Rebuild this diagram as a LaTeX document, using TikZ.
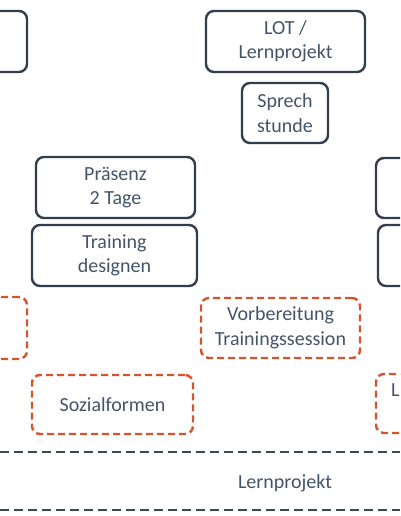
\documentclass[tikz,border=0pt]{standalone}
\usepackage{fontspec}
\setmainfont{Carlito}
\usetikzlibrary{arrows.meta, positioning}
\definecolor{Slate} {HTML}{333E4B}
\definecolor{SlateT}{HTML}{44546A}
\definecolor{Brick} {HTML}{D5532F}
\definecolor{DGray} {HTML}{3E4852}
\tikzset{
  blk/.style={
    rectangle, rounded corners=8pt,
    draw=Slate, fill=white, text=SlateT,
    font=\fontsize{20}{24.5}\selectfont, align=center,
    inner sep=0pt, line width=2.4pt,
  },
  rblk/.style={
    blk, draw=Brick, dash pattern=on 7pt off 4pt,
  },
  sep/.style={
    draw=DGray, line width=2.4pt, dash pattern=on 9pt off 5pt,
  },
  lbl/.style={
    font=\fontsize{20}{24.5}\selectfont, text=SlateT, inner sep=0pt,
  },
}
\begin{document}
\begin{tikzpicture}[x=1pt,y=1pt]
  \useasboundingbox (0,0) rectangle (400,516);
  \clip (0,0) rectangle (400,516);
    % top row
    \node[blk, minimum width=160pt, minimum height=61pt] (tl) at (-53,474.5) {};
    \node[blk, minimum width=159pt, minimum height=61pt] (lot) at (285.5,474.5)
          {LOT /\\Lernprojekt};
    \node[blk, minimum width=86pt, minimum height=60pt] (sprech) at (285,403)
          {Sprech\\stunde};
    % second group
    \node[blk, minimum width=159pt, minimum height=61pt] (praes) at (115.5,328.5)
          {Präsenz\\2 Tage};
    \node[blk, minimum width=165pt, minimum height=61pt] (design) at (114.5,260.5)
          {Training\\designen};
    \node[blk, minimum width=160pt, minimum height=60pt] (r1) at (456,328) {};
    \node[blk, minimum width=160pt, minimum height=61pt] (r2) at (458,260.5) {};
    % dashed (red) boxes
    \node[rblk, minimum width=160pt, minimum height=62pt] (rl) at (-53,188) {};
    \node[rblk, minimum width=159pt, minimum height=60pt] (vorb) at (280.5,188)
          {Vorbereitung\\Trainingssession};
    \node[rblk, minimum width=161pt, minimum height=59pt] (sozial) at (112.5,111.5)
          {Sozialformen};
    \node[rblk, minimum width=160pt, minimum height=59pt] (rr) at (456,112.5) {};
    \node[lbl, anchor=base west] (rrt) at (391,119) {L};
    % Lernprojekt band
    \draw[sep] (0,64) -- (400,64);
    \draw[sep] (0,6) -- (400,6);
    \node[lbl] (lp) at (285,33) {Lernprojekt};
  \end{tikzpicture}
\end{document}
